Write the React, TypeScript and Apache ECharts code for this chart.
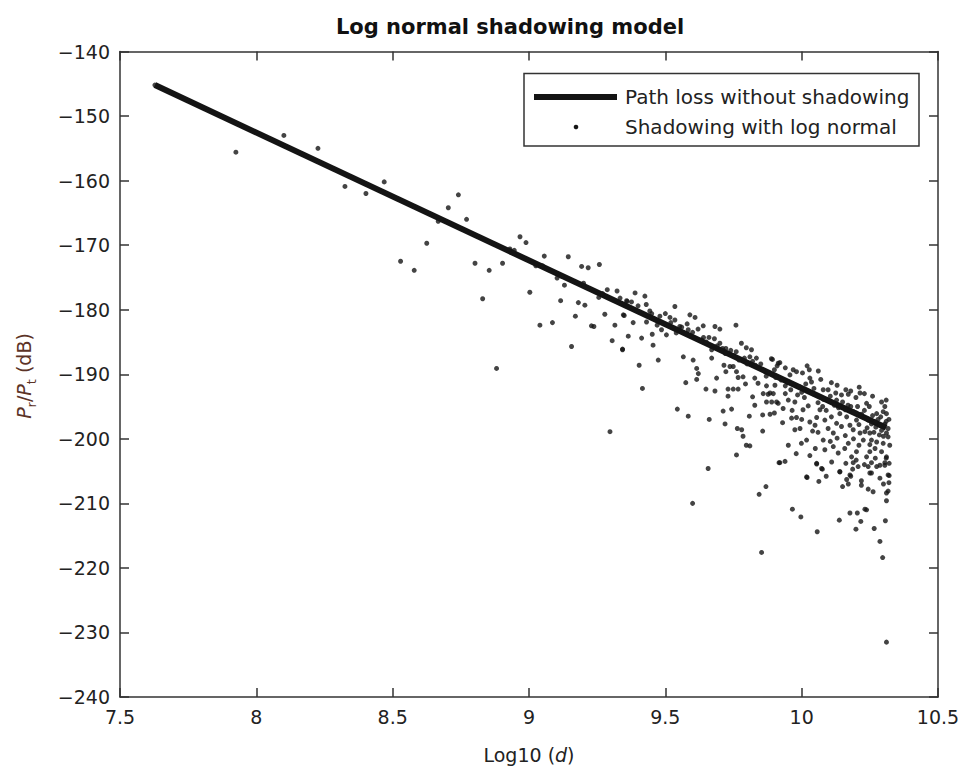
import React, { useEffect, useRef } from "react";
import * as echarts from "echarts";

const chartTitle = "Log normal shadowing model";
const legendLabels = ["Path loss without shadowing", "Shadowing with log normal"];
const xMin = 7.5;
const xMax = 10.5;
const xStep = 0.5;
const yMin = -240;
const yMax = -140;
const yStep = 10;

// path loss line (Log10(d), dB)
const pathLossX = [7.628, 10.31];
const pathLossY = [-145.2, -198.3];

// sparse part of the shadowing scatter
const shadowSparse: [number, number][] = [
  [7.628, -145.2], [7.925, -155.6], [8.101, -153.0], [8.226, -155.0], [8.325, -160.9],
  [8.402, -162.0], [8.469, -160.2], [8.529, -172.5], [8.579, -173.9], [8.741, -162.2],
  [8.704, -164.2], [8.771, -166.0], [8.667, -166.3], [8.625, -169.7], [8.802, -172.8],
  [8.854, -173.9], [8.903, -172.8], [8.83, -178.3], [8.881, -189.1], [8.967, -168.7],
  [8.989, -169.6], [8.946, -170.8], [9.056, -171.7], [9.144, -171.8], [9.025, -173.2],
  [9.193, -173.3], [9.217, -173.5], [9.258, -173.0], [9.003, -177.3], [9.103, -175.1],
  [9.13, -176.2], [9.116, -178.6], [9.181, -178.9], [9.205, -179.3], [9.17, -181.0],
  [9.04, -182.4], [9.086, -182.0], [9.229, -182.5], [9.238, -182.6], [9.156, -185.7],
  [9.278, -180.7], [9.315, -182.4], [9.305, -184.8], [9.343, -186.2], [9.349, -180.9],
  [9.287, -176.9], [9.323, -177.1], [9.334, -178.2], [9.36, -178.7], [9.297, -198.9],
  [9.256, -178.1], [8.93, -170.6], [9.05, -173.2], [9.12, -174.8], [9.2, -175.9], [9.27, -177.5],
];

// middle part (9.33 – 9.92)
const shadowMiddle: [number, number][] = [
  [9.389, -177.4], [9.425, -177.9], [9.358, -178.6], [9.376, -178.8], [9.346, -180.8],
  [9.443, -180.2], [9.535, -179.5], [9.382, -182.0], [9.431, -181.9], [9.517, -181.2],
  [9.535, -181.6], [9.59, -180.8], [9.609, -181.2], [9.364, -184.1], [9.413, -184.4],
  [9.452, -183.8], [9.486, -183.1], [9.504, -183.9], [9.553, -182.6], [9.584, -183.1],
  [9.639, -182.5], [9.682, -182.6], [9.7, -183.0], [9.759, -182.4], [9.343, -186.1],
  [9.455, -185.5], [9.474, -187.8], [9.404, -188.6], [9.416, -192.2], [9.566, -187.3],
  [9.602, -187.8], [9.615, -189.1], [9.621, -189.9], [9.615, -190.8], [9.575, -191.3],
  [9.633, -184.7], [9.67, -186.2], [9.67, -187.5], [9.7, -185.2], [9.722, -186.0],
  [9.688, -190.6], [9.649, -192.3], [9.682, -192.6], [9.715, -188.6], [9.737, -188.8],
  [9.749, -188.8], [9.722, -189.6], [9.767, -190.5], [9.785, -190.4], [9.73, -192.3],
  [9.749, -192.3], [9.767, -192.3], [9.73, -193.4], [9.779, -185.2], [9.797, -185.9],
  [9.816, -186.2], [9.81, -187.3], [9.834, -187.5], [9.889, -187.6], [9.914, -188.3],
  [9.761, -189.6], [9.794, -191.5], [9.828, -190.6], [9.84, -191.4], [9.871, -191.8],
  [9.859, -193.0], [9.877, -193.1], [9.896, -193.0], [9.908, -194.3], [9.871, -194.3],
  [9.82, -193.5], [9.828, -194.8], [9.544, -195.4], [9.584, -196.5], [9.661, -197.0],
  [9.712, -195.7], [9.743, -195.4], [9.719, -197.7], [9.808, -196.5], [9.857, -196.3],
  [9.884, -196.2], [9.764, -198.4], [9.78, -198.6], [9.785, -199.6], [9.797, -201.0],
  [9.81, -201.1], [9.857, -198.8], [9.761, -202.5], [9.657, -204.6], [9.917, -203.7],
  [9.869, -207.4], [9.844, -208.6], [9.6, -210.0], [9.853, -217.6],
  [9.4, -179.4], [9.45, -180.6], [9.48, -181.0], [9.52, -182.0], [9.56, -182.7],
  [9.6, -183.5], [9.64, -184.3], [9.66, -184.3], [9.69, -185.6], [9.72, -186.8],
  [9.75, -187.1], [9.77, -187.8], [9.8, -188.4], [9.83, -188.6], [9.86, -189.4],
  [9.58, -182.2], [9.62, -183.0], [9.65, -185.0], [9.68, -184.5], [9.71, -186.0],
  [9.74, -186.3], [9.76, -186.5], [9.79, -187.5], [9.82, -188.0], [9.85, -188.4],
  [9.87, -190.3], [9.9, -189.3], [9.54, -183.6], [9.5, -180.6], [9.47, -182.4], [9.43, -179.2],
];

// dense part near the end (9.88 – 10.32)
const shadowDense: [number, number][] = [
  [9.893, -187.7], [9.92, -188.2], [9.91, -188.7], [9.969, -189.3], [9.981, -189.6],
  [10.003, -189.8], [10.028, -189.3], [10.061, -189.5], [9.957, -190.1], [10.03, -190.6],
  [10.036, -191.2], [10.109, -191.3], [10.097, -192.4], [10.079, -192.4], [10.162, -192.4],
  [10.171, -193.1], [10.146, -193.2], [10.211, -192.0], [10.214, -192.9], [10.199, -193.6],
  [10.128, -194.0], [10.238, -194.5], [10.248, -195.0], [10.293, -194.3], [10.305, -195.0],
  [10.299, -195.8], [10.311, -196.1], [10.275, -196.1], [10.287, -197.9], [10.305, -197.7],
  [10.317, -198.4], [10.293, -198.7], [10.311, -199.1], [10.272, -198.2], [10.256, -197.7],
  [10.244, -197.1], [9.884, -192.9], [9.902, -191.7], [9.89, -194.3], [9.932, -195.3],
  [9.914, -194.5], [9.951, -194.0], [9.975, -194.3], [9.963, -196.8], [9.981, -196.7],
  [9.994, -198.4], [9.975, -198.6], [10.005, -195.5], [10.024, -194.9], [10.03, -197.4],
  [10.049, -197.9], [10.055, -196.7], [10.067, -195.5], [10.077, -195.0], [10.085, -197.1],
  [10.097, -198.4], [10.109, -196.6], [10.116, -199.1], [10.128, -197.6], [10.14, -196.1],
  [10.146, -198.1], [10.165, -196.6], [10.177, -197.9], [10.189, -198.6], [10.201, -197.1],
  [10.214, -199.1], [10.232, -198.9], [10.25, -199.1], [10.226, -200.2], [10.256, -200.2],
  [10.275, -200.5], [10.299, -200.7], [10.323, -201.0], [10.317, -199.7], [9.951, -201.0],
  [9.999, -200.7], [10.018, -200.2], [10.079, -200.2], [10.085, -201.7], [10.116, -201.2],
  [10.134, -202.2], [10.158, -201.5], [10.171, -200.7], [10.183, -202.8], [10.201, -202.0],
  [10.238, -202.8], [10.25, -202.0], [10.269, -201.5], [10.293, -202.0], [10.311, -202.8],
  [9.92, -203.7], [9.939, -203.5], [10.055, -203.8], [10.073, -204.6], [10.14, -205.1],
  [10.177, -205.6], [10.207, -204.3], [10.25, -205.3], [10.275, -204.3], [10.305, -204.1],
  [10.317, -205.6], [10.018, -205.9],
  [9.95, -191.3], [9.99, -191.9], [10.0, -192.8], [10.04, -193.0], [10.08, -193.9],
  [10.1, -194.1], [10.12, -194.8], [10.16, -195.5], [10.18, -195.0], [10.2, -196.0],
  [10.22, -196.2], [10.24, -196.9], [10.27, -197.4], [10.3, -198.0],
  [9.905, -190.5], [9.925, -190.9], [9.94, -191.8], [9.96, -192.4], [9.985, -193.2],
  [10.01, -193.6], [10.015, -191.5], [10.045, -192.2], [10.06, -194.4], [10.09, -195.6],
  [10.105, -193.4], [10.125, -192.9], [10.135, -195.2], [10.15, -194.3], [10.17, -194.8],
  [10.19, -195.8], [10.205, -195.0], [10.23, -195.6], [10.26, -196.4], [10.28, -197.0],
  [10.29, -196.6], [10.31, -197.3], [10.32, -197.0], [10.3, -199.6], [10.285, -199.4],
  [10.265, -199.0], [10.24, -198.3], [10.21, -197.8], [10.19, -200.0], [10.16, -199.5],
  [10.13, -199.9], [10.105, -200.4], [10.06, -199.0], [10.04, -198.8], [10.0, -197.0],
  [9.965, -195.6], [9.94, -193.0], [9.9, -196.0], [9.93, -197.5], [10.31, -203.0],
  [10.32, -206.8], [10.3, -207.0], [10.27, -203.0], [10.23, -204.0], [10.2, -203.3],
  [10.11, -203.6], [10.09, -205.8], [10.05, -201.5], [10.03, -202.6], [9.98, -202.3],
  [10.31, -194.0], [10.26, -193.4], [10.23, -193.0], [10.18, -192.6], [10.13, -191.7],
  [10.07, -190.8], [10.02, -188.7], [9.94, -189.0], [10.25, -200.9], [10.21, -201.0],
];

// lower tail of the scatter
const shadowTail: [number, number][] = [
  [9.966, -210.9], [9.997, -212.1], [10.057, -214.4], [10.02, -206.0], [10.063, -206.6],
  [10.055, -203.9], [10.076, -204.7], [10.138, -212.6], [10.177, -211.5], [10.204, -211.5],
  [10.217, -212.8], [10.199, -214.0], [10.232, -210.9], [10.238, -211.0], [10.266, -213.9],
  [10.307, -212.7], [10.287, -215.9], [10.297, -218.4], [10.311, -231.5], [10.311, -209.6],
  [10.317, -208.1], [10.311, -208.4], [10.321, -205.7], [10.287, -206.1], [10.15, -207.4],
  [10.171, -207.0], [10.165, -206.3], [10.14, -205.1], [10.18, -205.8], [10.187, -204.7],
  [10.162, -203.8], [10.189, -203.7], [10.219, -206.5], [10.219, -207.2], [10.244, -207.8],
  [10.262, -208.2], [10.244, -204.3], [10.256, -205.3], [10.256, -203.7], [10.287, -204.1],
  [10.305, -203.7], [10.321, -203.8],
];

const FONT = "DejaVu Sans";
const TEXT = "#222";
const AXIS = "#333";

const minusFmt = (v: number) => String(v).replace("-", "\u2212");

export default function App() {
  const ref = useRef<HTMLDivElement>(null);
  useEffect(() => {
    document.body.style.margin = "0";
    const chart = echarts.init(ref.current!, undefined, { renderer: "svg" });
    const scatterData = [...shadowSparse, ...shadowMiddle, ...shadowDense, ...shadowTail];
    const lineData = pathLossX.map((x, i) => [x, pathLossY[i]]);
    const axisCommon = {
      axisLine: { show: true, onZero: false, lineStyle: { color: AXIS, width: 1.5 } },
      axisTick: { show: true, inside: true, length: 9, lineStyle: { color: AXIS, width: 1.5 } },
      splitLine: { show: false },
    };
    const labelStyle = { color: TEXT, fontFamily: FONT, fontSize: 19 };
    chart.setOption({
      animation: false,
      backgroundColor: "#fff",
      grid: { left: 120, right: 27, top: 51.5, bottom: 70, containLabel: false },
      xAxis: [
        {
          type: "value", position: "bottom", min: xMin, max: xMax, interval: xStep,
          ...axisCommon,
          axisLabel: { ...labelStyle, margin: 10, formatter: (v: number) => String(v) },
        },
        {
          type: "value", position: "top", min: xMin, max: xMax, interval: xStep,
          ...axisCommon, axisLabel: { show: false },
        },
      ],
      yAxis: [
        {
          type: "value", position: "left", min: yMin, max: yMax, interval: yStep,
          ...axisCommon,
          axisLabel: { ...labelStyle, margin: 10, formatter: minusFmt },
        },
        {
          type: "value", position: "right", min: yMin, max: yMax, interval: yStep,
          ...axisCommon, axisLabel: { show: false },
        },
      ],
      series: [
        {
          name: legendLabels[0],
          type: "line",
          data: lineData,
          showSymbol: false,
          symbol: "none",
          lineStyle: { color: "#141414", width: 6 },
          z: 2,
        },
        {
          name: legendLabels[1],
          type: "scatter",
          data: scatterData,
          symbol: "circle",
          symbolSize: 5,
          itemStyle: { color: "#151515" },
          z: 3,
        },
      ],
      graphic: [
        {
          type: "text", x: 510, y: 27,
          style: {
            text: chartTitle, fill: "#111", font: `bold 21px "${FONT}"`,
            textAlign: "center", textVerticalAlign: "middle",
          },
        },
        {
          type: "text", x: 529, y: 755,
          style: {
            text: "{n|Log10 (}{i|d}{n|)}", fill: TEXT,
            textAlign: "center", textVerticalAlign: "middle",
            rich: {
              n: { fontFamily: FONT, fontSize: 19, fill: TEXT },
              i: { fontFamily: FONT, fontSize: 19, fontStyle: "italic", fill: TEXT },
            },
          },
        },
        {
          type: "text", x: 24, y: 376, rotation: Math.PI / 2,
          style: {
            text: "{i|P}{s|r}{n|/}{i|P}{s|t}{n| (dB)}", fill: "#5c3327",
            textAlign: "center", textVerticalAlign: "middle",
            rich: {
              n: { fontFamily: FONT, fontSize: 19, lineHeight: 28, fill: "#5c3327" },
              i: { fontFamily: FONT, fontSize: 19, lineHeight: 28, fontStyle: "italic", fill: "#5c3327" },
              s: { fontFamily: FONT, fontSize: 13, lineHeight: 14, verticalAlign: "bottom", fill: "#5c3327" },
            },
          },
        },
        {
          type: "group", z: 100,
          children: [
            {
              type: "rect", shape: { x: 524, y: 73.5, width: 395, height: 72.5 },
              style: { fill: "#fff", stroke: AXIS, lineWidth: 1.5 },
            },
            {
              type: "line", shape: { x1: 534, y1: 97, x2: 617, y2: 97 },
              style: { stroke: "#141414", lineWidth: 6 },
            },
            {
              type: "circle", shape: { cx: 576, cy: 127, r: 2.3 },
              style: { fill: "#151515" },
            },
            {
              type: "text", x: 625, y: 97,
              style: {
                text: legendLabels[0], fill: TEXT, font: `20px "${FONT}"`,
                textAlign: "left", textVerticalAlign: "middle",
              },
            },
            {
              type: "text", x: 625, y: 127,
              style: {
                text: legendLabels[1], fill: TEXT, font: `20px "${FONT}"`,
                textAlign: "left", textVerticalAlign: "middle",
              },
            },
          ],
        },
      ],
    });
    return () => chart.dispose();
  }, []);
  return (
    <div
      ref={ref}
      style={{ position: "fixed", left: 0, top: 0, width: 965, height: 767, background: "#fff" }}
    />
  );
}
